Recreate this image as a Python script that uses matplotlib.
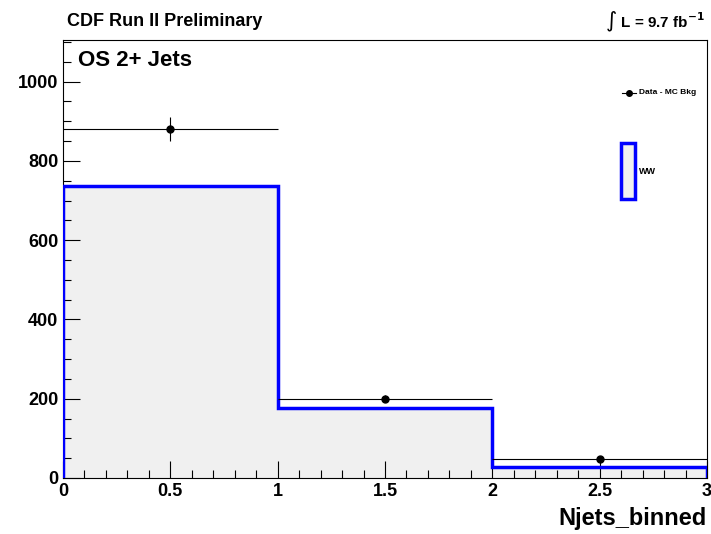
import numpy as np
import matplotlib.pyplot as plt
from matplotlib.patches import Rectangle
from matplotlib.ticker import MultipleLocator

plt.rcParams['font.family'] = ['Liberation Sans', 'DejaVu Sans']
plt.rcParams['font.weight'] = 'bold'
plt.rcParams['mathtext.default'] = 'bf'

# 数据
bin_edges = [0, 1, 2, 3]
ww_counts = [737, 176, 28]
data_x = [0.5, 1.5, 2.5]
data_y = [880, 200, 48]
data_yerr = [30, 9, 5]
data_xerr = [0.5, 0.5, 0.5]

fig = plt.figure(figsize=(7.11, 5.34), dpi=100)
ax = fig.add_axes([63 / 711, 1 - 478 / 534, (707 - 63) / 711, (478 - 40) / 534])

# 填充 + 蓝色阶梯
ax.stairs(ww_counts, bin_edges, fill=True, color='#f0f0f0', zorder=1)
ax.stairs(ww_counts, bin_edges, color='blue', lw=2.5, zorder=3)

ax.errorbar(data_x, data_y, xerr=data_xerr, yerr=data_yerr, fmt='o', color='black',
            ms=5, elinewidth=0.8, capsize=0, zorder=4)

ax.set_xlim(0, 3)
ax.set_ylim(0, 1105)
ax.xaxis.set_major_locator(MultipleLocator(0.5))
ax.xaxis.set_minor_locator(MultipleLocator(0.1))
ax.yaxis.set_major_locator(MultipleLocator(200))
ax.yaxis.set_minor_locator(MultipleLocator(50))
ax.tick_params(which='both', direction='in', top=False, right=False, labelsize=13, width=0.8)
ax.tick_params(which='major', length=12)
ax.tick_params(which='minor', length=6)
ax.set_xticks([0, 0.5, 1, 1.5, 2, 2.5, 3])
ax.set_xticklabels(['0', '0.5', '1', '1.5', '2', '2.5', '3'])
for lab in ax.get_xticklabels() + ax.get_yticklabels():
    lab.set_fontweight('bold')
for s in ax.spines.values():
    s.set_linewidth(0.8)

fig.text(707 / 711, 1 - 518 / 534, 'Njets_binned', fontsize=17, fontweight='bold',
         ha='right', va='center')

fig.text(67 / 711, 1 - 22 / 534, 'CDF Run II Preliminary', fontsize=13, fontweight='bold', va='center')
fig.text(78 / 711, 1 - 60 / 534, 'OS 2+ Jets', fontsize=16, fontweight='bold', va='center')
fig.text(705 / 711, 1 - 22 / 534, r'$\int$ L = 9.7 fb$^{-1}$', fontsize=11,
         fontweight='bold', va='center', ha='right')

# 图例
ax.plot([0.879], [0.879], transform=ax.transAxes, marker='o', color='black', ms=4)
ax.plot([0.868, 0.890], [0.879, 0.879], transform=ax.transAxes, color='black', lw=0.8)
ax.text(0.895, 0.879, 'Data - MC Bkg', transform=ax.transAxes, fontsize=6, fontweight='bold', va='center')
ax.add_patch(Rectangle((0.867, 0.636), 0.021, 0.128, transform=ax.transAxes,
                       facecolor='#f0f0f0', edgecolor='blue', lw=2.5))
ax.text(0.895, 0.70, 'WW', transform=ax.transAxes, fontsize=6.5, fontweight='bold', va='center')

fig.savefig('out.png', dpi=100)
